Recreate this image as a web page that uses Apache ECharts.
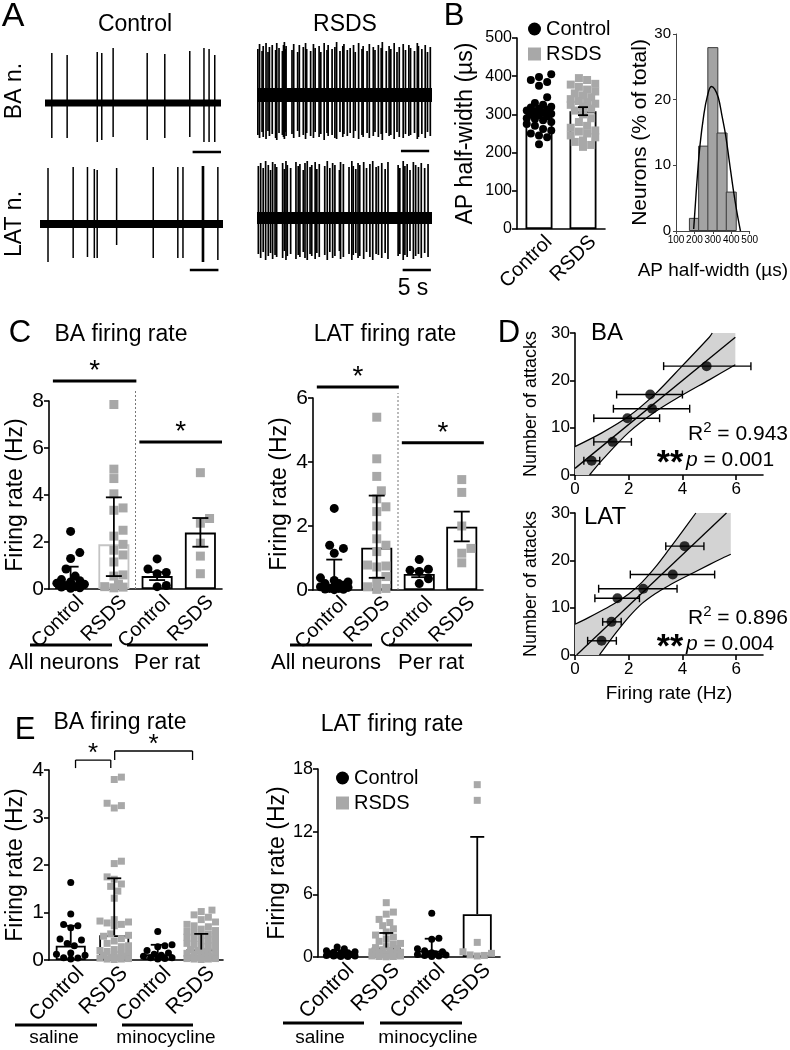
<!DOCTYPE html>
<html>
<head>
<meta charset="utf-8">
<title>BA / LAT firing rate figure</title>
<script src="https://cdn.jsdelivr.net/npm/echarts@6.0.0/dist/echarts.min.js"></script>
<style>
html,body{margin:0;padding:0;background:#fff;}
#chart{width:790px;height:1050px;}
</style>
</head>
<body>
<div id="chart"></div>
<script>
// ================= DATA =================
// ---- Panel A: extracellular traces (time in s, spike amplitude in µV from baseline)
const traceDurBaCtrl = 31, traceDurBaRsds = 31, traceDurLatCtrl = 32, traceDurLatRsds = 31;
const scaleBarSec = 5;
const baCtrlSpikeT = [1.2, 3.9, 9.2, 10.0, 12.0, 18.0, 21.1, 25.5, 28.0, 28.9, 29.9];
const baCtrlSpikeUp = [50, 48, 51, 50, 55, 50, 49, 52, 55, 54, 48];
const baCtrlSpikeDown = [35, 35, 39, 37, 34, 37, 35, 34, 39, 39, 39];
const latCtrlSpikeT = [1.4, 5.8, 8.3, 9.5, 10.0, 13.4, 19.8, 24.1, 25.0, 28.4, 28.6, 31.1];
const latCtrlSpikeUp = [56, 57, 57, 55, 54, 56, 57, 57, 57, 58, 58, 57];
const latCtrlSpikeDown = [38, 34, 33, 34, 34, 21, 34, 34, 34, 38, 38, 36];
const baRsdsSpikeT = [0.15, 0.45, 0.9, 1.1, 1.6, 1.95, 2.2, 2.7, 3.3, 3.5, 3.9, 4.5, 4.7, 4.85, 5.0, 5.15, 6.2, 6.5,
  7.2, 7.5, 8.2, 8.6, 8.8, 9.5, 10.0, 10.3, 11.0, 11.3, 11.9, 12.4, 12.6, 13.3, 13.8, 14.1, 14.7, 15.2, 15.4, 16.0,
  16.5, 17.1, 17.4, 18.0, 18.6, 18.8, 19.5, 19.9, 20.6, 20.9, 21.5, 22.0, 22.2, 22.9, 23.4, 23.7, 24.3, 24.8, 25.2,
  25.9, 26.3, 26.9, 27.2, 27.9, 28.4, 28.6, 29.2, 29.8, 30.2, 30.7];
const baRsdsSpikeUp = [46, 51, 44, 49, 52, 43, 48, 50, 45, 52, 47, 44, 50, 53, 46, 49, 45, 51, 43, 50,
  48, 52, 46, 44, 51, 47, 49, 43, 52, 45, 50, 46, 48, 53, 44, 49, 51, 45, 47, 50,
  43, 52, 46, 49, 44, 51, 48, 45, 50, 47, 53, 44, 49, 46, 52, 43, 48, 51, 45, 50, 47, 44, 52, 49, 46, 50, 43, 48];
const baRsdsSpikeDown = [40, 43, 37, 42, 44, 36, 41, 39, 43, 45, 38, 40, 42, 44, 37, 41, 39, 43, 36, 42,
  40, 44, 38, 41, 43, 37, 42, 39, 45, 38, 41, 40, 43, 44, 37, 42, 39, 41, 38, 43,
  36, 44, 40, 42, 38, 43, 41, 37, 42, 39, 45, 38, 41, 40, 44, 37, 42, 43, 39, 41, 40, 38, 44, 42, 39, 43, 37, 41];
const latRsdsSpikeT = [0.24, 0.65, 1.1, 1.53, 2.0, 2.4, 2.77, 3.2, 3.48, 4.54, 4.84, 5.13, 5.37, 5.96, 6.9, 7.3,
  7.6, 8.2, 8.5, 8.9, 9.4, 9.7, 10.3, 10.6, 11.03, 12.0, 12.45, 12.9, 13.4, 13.8, 14.6, 14.8, 15.3, 16.3, 16.8,
  17.05, 17.5, 17.9, 18.2, 18.9, 19.4, 20.0, 20.5, 21.1, 21.5, 22.1, 22.7, 23.2, 25.0, 25.3, 25.9, 26.2, 26.6,
  27.1, 27.7, 28.1, 28.6, 29.1, 29.7, 30.3];
const latRsdsSpikeUp = [52, 55, 50, 57, 53, 48, 56, 54, 51, 55, 49, 57, 53, 50, 56, 52, 54, 48, 55, 57,
  51, 53, 56, 49, 54, 52, 57, 50, 55, 53, 48, 56, 54, 51, 57, 52, 49, 55, 53, 56,
  50, 54, 57, 51, 52, 55, 49, 56, 53, 50, 57, 52, 54, 48, 56, 53, 51, 55, 50, 54];
const latRsdsSpikeDown = [36, 40, 34, 42, 38, 35, 41, 37, 39, 40, 33, 42, 38, 36, 41, 37, 39, 34, 40, 42,
  36, 38, 41, 35, 39, 37, 42, 34, 40, 38, 33, 41, 39, 36, 42, 37, 35, 40, 38, 41,
  34, 39, 42, 36, 37, 40, 35, 41, 38, 36, 42, 37, 39, 33, 41, 38, 36, 40, 35, 39];

// ---- Panel B: AP half-width
const bCats = ['Control', 'RSDS'];
const bBarMeans = [305, 308];
const bErrLo = [297, 298];
const bErrHi = [313, 319];
const bCtrlPts = [405, 398, 390, 385, 375, 345, 330, 325, 320, 318, 315, 312, 310, 308, 305, 302, 300, 298, 295, 290, 288, 285, 280, 275, 270, 262, 258, 250, 245, 240, 222];
const bRsdsPts = [395, 390, 380, 378, 372, 365, 360, 355, 350, 345, 340, 335, 332, 328, 325, 320, 315, 310, 300, 290, 280, 270, 265, 258, 255, 250, 245, 240, 232, 228, 220, 215];
const histBins = [200, 250, 300, 350, 400];
const histPct = [2, 13, 28, 15, 6];
const fitX = [196, 205, 215, 230, 250, 270, 292, 310, 330, 350, 370, 390, 410, 430, 450];
const fitY = [0.3, 4, 8, 13, 17.5, 20.5, 22, 21.6, 20.3, 17.5, 14.5, 10.5, 6.5, 3, 0];

// ---- Panel C: firing rates (Hz)
const cCats = ['Control', 'RSDS', 'Control', 'RSDS'];
const cGroups = ['All neurons', 'Per rat'];
const cBaBars = [0.28, 1.9, 0.55, 2.4];
const cBaErrLo = [0.08, 0.55, 0.38, 1.8];
const cBaErrHi = [0.95, 3.9, 0.72, 3.02];
const cBaPts0 = [2.45, 1.55, 1.3, 0.85, 0.55, 0.4, 0.35, 0.3, 0.25, 0.2, 0.15, 0.1, 0.08, 0.05, 0.03];
const cBaPts1 = [7.85, 5.1, 4.7, 4.05, 3.45, 3.35, 2.5, 2.25, 1.9, 1.65, 1.45, 1.15, 0.6, 0.55, 0.2, 0.1, 0.08, 0.05];
const cBaPts2 = [1.28, 0.85, 0.7, 0.65, 0.15, 0.1];
const cBaPts3 = [4.95, 3.0, 2.8, 1.95, 1.4, 0.65];
const cLatBars = [0.15, 1.32, 0.5, 1.98];
const cLatErrLo = [0.02, 0.38, 0.4, 1.52];
const cLatErrHi = [0.95, 2.95, 0.6, 2.45];
const cLatPts0 = [2.55, 1.4, 1.3, 1.15, 0.38, 0.3, 0.25, 0.2, 0.2, 0.15, 0.12, 0.1, 0.08, 0.05, 0.05, 0.03, 0.02, 0.01];
const cLatPts1 = [5.4, 4.1, 3.55, 3.1, 2.85, 2.6, 2.45, 2.0, 1.6, 1.4, 1.2, 0.78, 0.75, 0.72, 0.42, 0.28, 0.1, 0.05, 0.02];
const cLatPts2 = [0.95, 0.65, 0.62, 0.58, 0.35, 0.2];
const cLatPts3 = [3.45, 3.05, 2.0, 1.3, 1.15, 0.85];

// ---- Panel D: number of attacks vs firing rate (mean ± SD per rat)
const dBaX = [0.62, 1.4, 1.95, 2.87, 2.8, 4.9];
const dBaY = [3, 7, 12, 14, 17, 23];
const dBaXLo = [0.33, 0.7, 0.7, 1.43, 1.55, 3.3];
const dBaXHi = [0.92, 2.1, 3.15, 4.27, 4.0, 6.55];
const dBaFit = [[0, 1.4], [5.97, 29.1]];
const dBaBandUp = [[0, 6.0], [1, 8.9], [2, 12.4], [3, 17.2], [4, 23.1], [5, 29.1], [5.11, 30]];
const dBaBandLo = [[0.54, 0], [1, 3.1], [2, 9.0], [3, 13.4], [4, 16.9], [5, 20.1], [5.97, 23.3]];
const dLatX = [0.99, 1.36, 1.58, 2.54, 3.64, 4.08];
const dLatY = [3, 7, 12, 14, 17, 23];
const dLatXLo = [0.47, 1.03, 0.74, 0.88, 2.06, 3.38];
const dLatXHi = [1.54, 1.72, 2.4, 3.8, 5.2, 4.8];
const dLatFit = [[0.06, 0], [5.64, 30]];
const dLatBandUp = [[0, 6.5], [0.5, 7.9], [1, 9.4], [1.5, 11.0], [2, 12.9], [2.5, 15.4], [3, 18.6], [3.5, 22.3], [4, 26.1], [4.5, 30]];
const dLatBandLo = [[0.91, 0], [1, 0.7], [1.5, 4.5], [2, 8.0], [2.5, 10.9], [3, 13.0], [3.5, 14.7], [4, 16.2], [5, 19.1], [5.5, 20.5], [5.8, 21.3]];
const dBaStats = {r2: '0.943', p: '0.001'};
const dLatStats = {r2: '0.896', p: '0.004'};

// ---- Panel E: saline vs minocycline (Hz)
const eCats = ['Control', 'RSDS', 'Control', 'RSDS'];
const eGroups = ['saline', 'minocycline'];
const eBaBars = [0.3, 0.52, 0.12, 0.22];
const eBaErrHi = [0.72, 1.72, 0.32, 0.55];
const eBaPts0 = [1.63, 0.97, 0.75, 0.72, 0.68, 0.44, 0.42, 0.35, 0.3, 0.15, 0.12, 0.1, 0.05, 0.04, 0.02];
const eBaPts1 = [3.85, 3.8, 3.3, 3.25, 3.2, 2.08, 2.03, 1.75, 1.7, 1.6, 1.55, 1.45, 1.3, 0.85, 0.82, 0.8, 0.78, 0.75, 0.72, 0.55, 0.52, 0.5, 0.45, 0.4, 0.35, 0.3, 0.28, 0.22, 0.2, 0.18, 0.16, 0.14, 0.12, 0.1, 0.08, 0.06, 0.05, 0.04, 0.03, 0.02, 0.02, 0.01];
const eBaPts2 = [0.6, 0.32, 0.3, 0.28, 0.2, 0.15, 0.12, 0.1, 0.08, 0.05, 0.05, 0.03, 0.02];
const eBaPts3 = [1.05, 1.02, 0.95, 0.9, 0.85, 0.8, 0.75, 0.72, 0.7, 0.65, 0.62, 0.6, 0.58, 0.55, 0.52, 0.5, 0.48, 0.45, 0.42, 0.4, 0.38, 0.35, 0.33, 0.3, 0.28, 0.25, 0.22, 0.2, 0.18, 0.17, 0.15, 0.14, 0.12, 0.1, 0.1, 0.08, 0.07, 0.06, 0.05, 0.05, 0.04, 0.03, 0.03, 0.02, 0.02, 0.01];
const eLatBars = [0.3, 0.9, 0.6, 4.1];
const eLatErrHi = [0.65, 2.3, 1.75, 11.5];
const eLatPts0 = [0.95, 0.8, 0.6, 0.5, 0.45, 0.4, 0.35, 0.3, 0.25, 0.2, 0.2, 0.15, 0.1, 0.1, 0.05, 0.05];
const eLatPts1 = [5.2, 4.3, 4.1, 3.6, 3.3, 3.0, 2.7, 2.4, 2.1, 1.9, 1.7, 1.5, 1.3, 1.2, 1.0, 0.9, 0.8, 0.7, 0.6, 0.5, 0.45, 0.4, 0.35, 0.3, 0.25, 0.2, 0.2, 0.15, 0.1, 0.1, 0.05, 0.05, 0.02];
const eLatPts2 = [4.2, 1.8, 1.7, 0.8, 0.6, 0.5, 0.4, 0.3, 0.3, 0.25, 0.2, 0.15, 0.1, 0.05];
const eLatPts3 = [16.5, 15.0, 1.4, 0.5, 0.35, 0.2, 0.15, 0.1];

// ================= STYLE / HELPERS =================
const FONT = "'Liberation Sans', Arial, Helvetica, sans-serif";
const GREY = '#a8a8a8';
const BLACK = '#000';

function makeSwarm(vals, ppu, d, maxHalf) {
  const n = vals.length;
  const idx = vals.map((_, i) => i).sort((a, b) => vals[a] - vals[b]);
  const placed = [];
  const off = new Array(n).fill(0);
  const step = d * 0.5;
  const kmax = Math.floor(maxHalf / step);
  const cands = [0];
  for (let k = 1; k <= kmax; k++) { cands.push(k * step, -k * step); }
  for (const i of idx) {
    const y = vals[i] * ppu;
    let best = 0, bestScore = -Infinity;
    for (const c of cands) {
      let minD = Infinity;
      for (const p of placed) {
        const dd = Math.hypot(p.x - c, p.y - y);
        if (dd < minD) minD = dd;
      }
      if (minD >= d) { best = c; break; }
      if (minD > bestScore + 0.5) { bestScore = minD; best = c; }
    }
    placed.push({x: best, y});
    off[i] = best;
  }
  return off;
}

function swarmSeries(g, cat, vals, shape, color, size, maxHalf, name) {
  let cache = null;
  return {
    type: 'custom', name: name || undefined, xAxisIndex: g, yAxisIndex: g, z: 3, silent: true,
    data: vals.map(v => [cat, v]),
    renderItem(params, api) {
      const ppu = Math.abs(api.size([0, 1])[1]);
      if (!cache || cache.ppu !== ppu) cache = {ppu, off: makeSwarm(vals, ppu, size * 1.02, maxHalf)};
      const p = api.coord([cat, api.value(1)]);
      const cx = p[0] + cache.off[params.dataIndex], cy = p[1];
      if (shape === 'circle') return {type: 'circle', shape: {cx, cy, r: size / 2}, style: {fill: color}};
      return {type: 'rect', shape: {x: cx - size / 2, y: cy - size / 2, width: size, height: size}, style: {fill: color}};
    }
  };
}

function barSeries(g, vals, width, borders) {
  return {
    type: 'bar', xAxisIndex: g, yAxisIndex: g, z: 2, silent: true, barWidth: width,
    data: vals.map((v, i) => ({value: v, itemStyle: {color: '#fff', borderColor: (borders && borders[i]) || BLACK, borderWidth: 1.8}}))
  };
}

function errSeries(g, los, his, capW, lowerCap) {
  return {
    type: 'custom', xAxisIndex: g, yAxisIndex: g, z: 5, silent: true,
    data: los.map((lo, i) => [i, lo, his[i]]),
    renderItem(params, api) {
      const c = api.value(0);
      const pLo = api.coord([c, api.value(1)]), pHi = api.coord([c, api.value(2)]);
      const x = pLo[0], w = capW / 2;
      const st = {stroke: BLACK, lineWidth: 1.8};
      const ch = [
        {type: 'line', shape: {x1: x, y1: pLo[1], x2: x, y2: pHi[1]}, style: st},
        {type: 'line', shape: {x1: x - w, y1: pHi[1], x2: x + w, y2: pHi[1]}, style: st}
      ];
      if (lowerCap) ch.push({type: 'line', shape: {x1: x - w, y1: pLo[1], x2: x + w, y2: pLo[1]}, style: st});
      return {type: 'group', children: ch};
    }
  };
}

function catX(api, c) {
  const a = api.coord([0, 0]), b = api.coord([1, 0]);
  return a[0] + (b[0] - a[0]) * c;
}

// rotated category labels drawn below each category axis
function catLabelSeries(g, cats, fs, dx, dy) {
  return {
    type: 'custom', xAxisIndex: g, yAxisIndex: g, z: 6, silent: true,
    data: cats.map((c, i) => [i, 0]),
    renderItem(params, api) {
      const p = api.coord([api.value(0), 0]);
      return {type: 'text', x: p[0] + dx, y: p[1] + dy, rotation: Math.PI / 4,
        style: {text: cats[params.dataIndex], fontSize: fs, fontFamily: FONT, fill: BLACK, align: 'right', verticalAlign: 'middle'}};
    }
  };
}

// significance annotations: [fromCat, toCat, yValue, dropValue]
function sigSeries(g, items, starSize, starGap, lw) {
  return {
    type: 'custom', xAxisIndex: g, yAxisIndex: g, z: 5, silent: true,
    data: items,
    renderItem(params, api) {
      const x0 = catX(api, api.value(0)), x1 = catX(api, api.value(1));
      const y = api.coord([0, api.value(2)])[1];
      const yd = api.coord([0, api.value(3)])[1];
      const st = {stroke: BLACK, lineWidth: lw};
      const ch = [{type: 'line', shape: {x1: x0, y1: y, x2: x1, y2: y}, style: st}];
      if (Math.abs(yd - y) > 0.5) {
        ch.push({type: 'line', shape: {x1: x0, y1: y, x2: x0, y2: yd}, style: st});
        ch.push({type: 'line', shape: {x1: x1, y1: y, x2: x1, y2: yd}, style: st});
      }
      ch.push({type: 'text', x: (x0 + x1) / 2, y: y - starGap,
        style: {text: '*', fontSize: starSize, fontFamily: FONT, fill: BLACK, align: 'center', verticalAlign: 'middle'}});
      return {type: 'group', children: ch};
    }
  };
}

function dividerSeries(g, topVal) {
  return {
    type: 'custom', xAxisIndex: g, yAxisIndex: g, z: 1, silent: true,
    data: [[1.5, topVal]],
    renderItem(params, api) {
      const x = catX(api, api.value(0));
      const y0 = api.coord([0, 0])[1], y1 = api.coord([0, api.value(1)])[1];
      return {type: 'line', shape: {x1: x, y1: y0, x2: x, y2: y1}, style: {stroke: '#777', lineWidth: 1, lineDash: [2, 2]}};
    }
  };
}

function traceSeries(g, dur, times, ups, downs, baseW, spikeW, barStart, barY) {
  return [
    {type: 'line', xAxisIndex: g, yAxisIndex: g, silent: true, symbol: 'none', data: [[0, 0], [dur, 0]],
      lineStyle: {color: BLACK, width: baseW, cap: 'butt'}, z: 2},
    {type: 'custom', xAxisIndex: g, yAxisIndex: g, silent: true, z: 3,
      data: times.map((t, i) => [t, ups[i], downs[i]]),
      renderItem(params, api) {
        const a = api.coord([api.value(0), api.value(1)]);
        const b = api.coord([api.value(0), -api.value(2)]);
        return {type: 'line', shape: {x1: a[0], y1: a[1], x2: b[0], y2: b[1]}, style: {stroke: BLACK, lineWidth: spikeW}};
      }},
    {type: 'line', xAxisIndex: g, yAxisIndex: g, silent: true, symbol: 'none',
      data: [[barStart, barY], [barStart + scaleBarSec, barY]], lineStyle: {color: BLACK, width: 2.5, cap: 'butt'}}
  ];
}

function bandSeries(g, up, lo, top) {
  return {
    type: 'custom', xAxisIndex: g, yAxisIndex: g, z: 1, silent: true,
    data: [[0, 0]],
    renderItem(params, api) {
      const xr = lo[lo.length - 1][0];
      const polyData = up.concat([[xr, top]], lo.slice().reverse(), [[0, 0]]);
      const poly = polyData.map(p => api.coord(p));
      const upPts = up.map(p => api.coord(p)), loPts = lo.map(p => api.coord(p));
      return {type: 'group', children: [
        {type: 'polygon', shape: {points: poly}, style: {fill: '#d3d3d3'}},
        {type: 'polyline', shape: {points: upPts, smooth: 0.3}, style: {stroke: BLACK, lineWidth: 1.2, fill: null}},
        {type: 'polyline', shape: {points: loPts, smooth: 0.3}, style: {stroke: BLACK, lineWidth: 1.2, fill: null}}
      ]};
    }
  };
}

function hErrSeries(g, xs, ys, los, his) {
  return {
    type: 'custom', xAxisIndex: g, yAxisIndex: g, z: 4, silent: true,
    data: xs.map((x, i) => [x, ys[i], los[i], his[i]]),
    renderItem(params, api) {
      const a = api.coord([api.value(2), api.value(1)]), b = api.coord([api.value(3), api.value(1)]);
      const st = {stroke: BLACK, lineWidth: 1.4};
      return {type: 'group', children: [
        {type: 'line', shape: {x1: a[0], y1: a[1], x2: b[0], y2: b[1]}, style: st},
        {type: 'line', shape: {x1: a[0], y1: a[1] - 4, x2: a[0], y2: a[1] + 4}, style: st},
        {type: 'line', shape: {x1: b[0], y1: b[1] - 4, x2: b[0], y2: b[1] + 4}, style: st}
      ]};
    }
  };
}

const axisLineStyle = {color: BLACK, width: 1.6};
function hiddenAxis(g, min, max) { return {type: 'value', gridIndex: g, min, max, show: false}; }
function valueAxis(g, min, max, interval, fs, extra) {
  return Object.assign({
    type: 'value', gridIndex: g, min, max, interval,
    axisLine: {show: true, lineStyle: axisLineStyle},
    axisTick: {show: true, length: 5, lineStyle: axisLineStyle},
    axisLabel: {color: BLACK, fontSize: fs, fontFamily: FONT, margin: 5},
    splitLine: {show: false}
  }, extra || {});
}
function yName(name, gap, fs) {
  return {name, nameLocation: 'middle', nameRotate: 90, nameGap: gap,
    nameTextStyle: {fontSize: fs, fontFamily: FONT, color: BLACK}};
}
function catAxis(g, cats) {
  return {type: 'category', gridIndex: g, data: cats,
    axisLine: {show: true, lineStyle: axisLineStyle}, axisTick: {show: false},
    axisLabel: {show: false}};
}

// ================= LAYOUT =================
const grids = [
  {left: 45, top: 40, width: 176, height: 115},   // 0 A BA control
  {left: 257, top: 38, width: 175, height: 117},  // 1 A BA RSDS
  {left: 40, top: 158, width: 183, height: 117},  // 2 A LAT control
  {left: 257, top: 152, width: 175, height: 123}, // 3 A LAT RSDS
  {left: 517, top: 38, width: 88, height: 191},   // 4 B bars
  {left: 676, top: 34, width: 96, height: 197},   // 5 B histogram
  {left: 49, top: 401, width: 173, height: 188},  // 6 C BA
  {left: 313, top: 398, width: 170, height: 192}, // 7 C LAT
  {left: 575, top: 333, width: 188, height: 142}, // 8 D BA
  {left: 575, top: 513, width: 188, height: 142}, // 9 D LAT
  {left: 49, top: 770, width: 174, height: 190},  // 10 E BA
  {left: 318, top: 769, width: 182, height: 188}  // 11 E LAT
].map(g => Object.assign({containLabel: false}, g));

const dTicks = [0, 2, 4, 6];
const xAxes = [
  hiddenAxis(0, 0, traceDurBaCtrl), hiddenAxis(1, 0, traceDurBaRsds),
  hiddenAxis(2, 0, traceDurLatCtrl), hiddenAxis(3, 0, traceDurLatRsds),
  catAxis(4, bCats),
  valueAxis(5, 100, 500, 100, 10, {name: 'AP half-width (µs)', nameLocation: 'middle', nameGap: 30,
    nameTextStyle: {fontSize: 19, fontFamily: FONT, color: BLACK}, axisTick: {show: true, length: 3, lineStyle: {color: '#444', width: 1}},
    axisLine: {show: true, lineStyle: {color: '#444', width: 1}}, axisLabel: {color: BLACK, fontSize: 10, fontFamily: FONT, margin: 4}}),
  catAxis(6, cCats), catAxis(7, cCats),
  valueAxis(8, 0, 7, 2, 17, {axisLabel: {color: BLACK, fontSize: 17, fontFamily: FONT, margin: 6, customValues: dTicks},
    axisTick: {show: true, length: 5, lineStyle: axisLineStyle, customValues: dTicks}}),
  valueAxis(9, 0, 7, 2, 17, {axisLabel: {color: BLACK, fontSize: 17, fontFamily: FONT, margin: 6, customValues: dTicks},
    axisTick: {show: true, length: 5, lineStyle: axisLineStyle, customValues: dTicks},
    name: 'Firing rate (Hz)', nameLocation: 'middle', nameGap: 29, nameTextStyle: {fontSize: 19, fontFamily: FONT, color: BLACK}}),
  catAxis(10, eCats), catAxis(11, eCats)
];
const yAxes = [
  hiddenAxis(0, -52, 63), hiddenAxis(1, -60, 57), hiddenAxis(2, -51, 66), hiddenAxis(3, -57, 66),
  valueAxis(4, 0, 500, 100, 16, yName('AP half-width (µs)', 40, 23)),
  valueAxis(5, 0, 30, 10, 15, Object.assign(yName('Neurons (% of total)', 24, 21),
    {axisTick: {show: true, length: 3, lineStyle: {color: '#444', width: 1}}, axisLine: {show: true, lineStyle: {color: '#444', width: 1}}})),
  valueAxis(6, 0, 8, 2, 21, yName('Firing rate (Hz)', 22, 23)),
  valueAxis(7, 0, 6, 2, 21, yName('Firing rate (Hz)', 22, 23)),
  valueAxis(8, 0, 30, 10, 17, yName('Number of attacks', 35, 18)),
  valueAxis(9, 0, 30, 10, 17, yName('Number of attacks', 35, 18)),
  valueAxis(10, 0, 4, 1, 21, yName('Firing rate (Hz)', 22, 23)),
  valueAxis(11, 0, 18, 6, 18, yName('Firing rate (Hz)', 23, 23))
];

// ================= SERIES =================
const series = [];
series.push(...traceSeries(0, traceDurBaCtrl, baCtrlSpikeT, baCtrlSpikeUp, baCtrlSpikeDown, 7, 1.5, 26, -49));
series.push(...traceSeries(1, traceDurBaRsds, baRsdsSpikeT, baRsdsSpikeUp, baRsdsSpikeDown, 14, 1.7, 25.5, -56));
series.push(...traceSeries(2, traceDurLatCtrl, latCtrlSpikeT, latCtrlSpikeUp, latCtrlSpikeDown, 8, 1.5, 26.2, -46));
series.push(...traceSeries(3, traceDurLatRsds, latRsdsSpikeT, latRsdsSpikeUp, latRsdsSpikeDown, 12, 1.7, 25.8, -52));

// B
series.push(barSeries(4, bBarMeans, 27));
series.push(swarmSeries(4, 0, bCtrlPts, 'circle', BLACK, 8, 14, 'Control'));
series.push(swarmSeries(4, 1, bRsdsPts, 'square', GREY, 8, 14, 'RSDS'));
series.push(errSeries(4, bErrLo, bErrHi, 10, true));
series.push(catLabelSeries(4, bCats, 20, 10, 10));
series.push({type: 'bar', xAxisIndex: 5, yAxisIndex: 5, silent: true, barWidth: 11,
  data: histBins.map((b, i) => [b, histPct[i]]),
  itemStyle: {color: '#a3a3a3', borderColor: '#3a3a3a', borderWidth: 1}});
series.push({type: 'line', xAxisIndex: 5, yAxisIndex: 5, silent: true, symbol: 'none', smooth: 0.4, z: 4,
  data: fitX.map((x, i) => [x, fitY[i]]), lineStyle: {color: BLACK, width: 1.4}});

// C
series.push(dividerSeries(6, 8.47));
series.push(barSeries(6, cBaBars, 31, [BLACK, '#c4c4c4', BLACK, BLACK]));
[cBaPts0, cBaPts1, cBaPts2, cBaPts3].forEach((pts, c) => series.push(
  swarmSeries(6, c, pts, c % 2 ? 'square' : 'circle', c % 2 ? GREY : BLACK, 9, 17)));
series.push(errSeries(6, cBaErrLo, cBaErrHi, 16, true));
series.push(sigSeries(6, [[-0.41, 1.52, 8.85, 8.85], [1.59, 3.5, 6.26, 6.26]], 28, 10, 3));
series.push(catLabelSeries(6, cCats, 20, 10, 10));

series.push(dividerSeries(7, 6.16));
series.push(barSeries(7, cLatBars, 31));
[cLatPts0, cLatPts1, cLatPts2, cLatPts3].forEach((pts, c) => series.push(
  swarmSeries(7, c, pts, c % 2 ? 'square' : 'circle', c % 2 ? GREY : BLACK, 9, 17)));
series.push(errSeries(7, cLatErrLo, cLatErrHi, 16, true));
series.push(sigSeries(7, [[-0.41, 1.52, 6.34, 6.34], [1.59, 3.52, 4.6, 4.6]], 28, 10, 3));
series.push(catLabelSeries(7, cCats, 20, 10, 10));

// D
[[8, dBaX, dBaY, dBaXLo, dBaXHi, dBaFit, dBaBandUp, dBaBandLo],
 [9, dLatX, dLatY, dLatXLo, dLatXHi, dLatFit, dLatBandUp, dLatBandLo]].forEach(([g, xs, ys, lo, hi, fit, bu, bl]) => {
  series.push(bandSeries(g, bu, bl, 30));
  series.push({type: 'line', xAxisIndex: g, yAxisIndex: g, silent: true, symbol: 'none', z: 3,
    data: fit, lineStyle: {color: BLACK, width: 1.3}});
  series.push(hErrSeries(g, xs, ys, lo, hi));
  series.push({type: 'scatter', xAxisIndex: g, yAxisIndex: g, silent: true, z: 6, symbol: 'circle', symbolSize: 10,
    data: xs.map((x, i) => [x, ys[i]]), itemStyle: {color: BLACK}});
});

// E
series.push(barSeries(10, eBaBars, 30));
[eBaPts0, eBaPts1, eBaPts2, eBaPts3].forEach((pts, c) => series.push(
  swarmSeries(10, c, pts, c % 2 ? 'square' : 'circle', c % 2 ? GREY : BLACK, 7, 16)));
series.push(errSeries(10, eBaBars, eBaErrHi, 14, false));
series.push(sigSeries(10, [[0.11, 0.92, 4.21, 4.04], [1.01, 2.8, 4.4, 4.21]], 26, 6, 1.3));
series.push(catLabelSeries(10, eCats, 21, 10, 10));

series.push(barSeries(11, eLatBars, 29));
[eLatPts0, eLatPts1, eLatPts2, eLatPts3].forEach((pts, c) => series.push(
  swarmSeries(11, c, pts, c % 2 ? 'square' : 'circle', c % 2 ? GREY : BLACK, 7, 15)));
series.push(errSeries(11, eLatBars, eLatErrHi, 14, false));
series.push(catLabelSeries(11, eCats, 21, 10, 10));

// ================= TEXT / ANNOTATIONS =================
function txt(text, x, y, size, opts) {
  opts = opts || {};
  const el = {type: 'text', x, y, silent: true, z: 100,
    style: Object.assign({text, fontSize: size, fontFamily: FONT, fill: BLACK, align: 'center', verticalAlign: 'middle'}, opts.style || {})};
  if (opts.rotation !== undefined) el.rotation = opts.rotation;
  return el;
}
function hline(x1, x2, y, w) {
  return {type: 'line', silent: true, z: 100, shape: {x1, y1: y, x2, y2: y}, style: {stroke: BLACK, lineWidth: w}};
}
function statText(x, y, s) {
  return [
    {type: 'text', x, y, silent: true, z: 100, style: {
      text: '{a|R}{s|2}{a| = ' + s.r2 + '}', fontFamily: FONT, fill: BLACK, align: 'left', verticalAlign: 'middle',
      rich: {a: {fontSize: 21, fontFamily: FONT, fill: BLACK}, s: {fontSize: 15, fontFamily: FONT, fill: BLACK, padding: [0, 0, 12, 0]}}}},
    {type: 'text', x: x - 2, y: y + 26, silent: true, z: 100, style: {
      text: '{i|p}{a| = ' + s.p + '}', fontFamily: FONT, fill: BLACK, align: 'left', verticalAlign: 'middle',
      rich: {a: {fontSize: 21, fontFamily: FONT, fill: BLACK}, i: {fontSize: 21, fontFamily: FONT, fontStyle: 'italic', fill: BLACK}}}},
    txt('**', x - 18, y + 30, 34, {style: {fontWeight: 'bold'}})
  ];
}

const graphics = [
  // panel letters
  txt('A', 13, 17, 34), txt('B', 454, 16, 31), txt('C', 20, 333, 31), txt('D', 509, 333, 31), txt('E', 25, 730, 31),
  // A labels
  txt('Control', 135, 25, 23), txt('RSDS', 345, 25, 23),
  txt('BA n.', 15, 91, 23, {rotation: Math.PI / 2}), txt('LAT n.', 15, 224, 23, {rotation: Math.PI / 2}),
  txt('5 s', 413, 289, 23),
  // C titles and group labels
  txt('BA firing rate', 121, 335, 23), txt('LAT firing rate', 385, 335, 23),
  hline(30, 112, 645, 3), hline(127, 208, 645, 3), hline(290, 372, 645, 3), hline(389, 472, 645, 3),
  txt(cGroups[0], 64, 663, 22), txt(cGroups[1], 167, 663, 22), txt(cGroups[0], 326, 663, 22), txt(cGroups[1], 431, 663, 22),
  // D labels
  txt('BA', 607, 333, 24), txt('LAT', 605, 517, 24),
  ...statText(688, 434, dBaStats), ...statText(688, 618, dLatStats),
  // E titles and group labels
  txt('BA firing rate', 120, 723, 23), txt('LAT firing rate', 392, 725, 23),
  hline(15, 97, 1025, 3), hline(122, 193, 1025, 3), hline(283, 364, 1023, 3), hline(380, 462, 1023, 3),
  txt(eGroups[0], 54, 1038, 19), txt(eGroups[1], 166, 1038, 19), txt(eGroups[0], 320, 1038, 19), txt(eGroups[1], 428, 1038, 19)
];

const legendBase = {
  selectedMode: false, orient: 'vertical', itemWidth: 13, itemHeight: 13, itemGap: 5,
  textStyle: {fontSize: 20, fontFamily: FONT, color: BLACK},
  data: [{name: 'Control', icon: 'circle', itemStyle: {color: BLACK}}, {name: 'RSDS', icon: 'rect', itemStyle: {color: GREY}}]
};

const option = {
  animation: false,
  backgroundColor: '#fff',
  textStyle: {fontFamily: FONT},
  grid: grids,
  xAxis: xAxes,
  yAxis: yAxes,
  legend: [Object.assign({left: 523, top: 14}, legendBase), Object.assign({left: 331, top: 763}, legendBase)],
  series,
  graphic: {elements: graphics}
};

const chart = echarts.init(document.getElementById('chart'), null, {renderer: 'canvas', width: 790, height: 1050});
chart.setOption(option);
</script>
</body>
</html>
